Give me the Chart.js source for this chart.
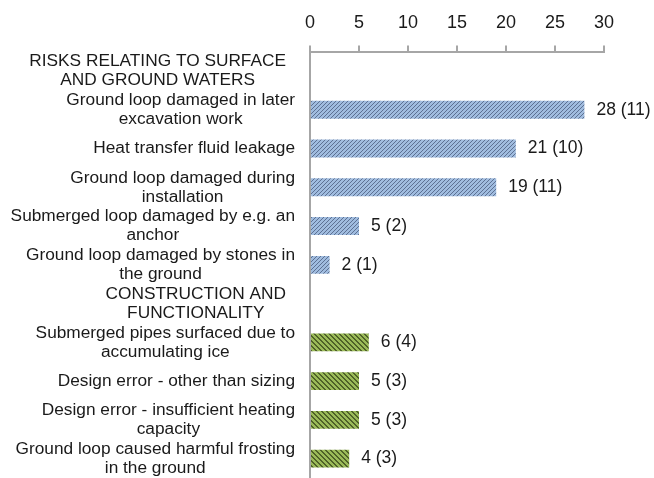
<!DOCTYPE html>
<html>
<head>
<meta charset="utf-8">
<script src="https://cdn.jsdelivr.net/npm/chart.js@4"></script>
<style>
  html, body { margin: 0; padding: 0; background: #fff; }
  #wrap { width: 654px; height: 478px; }
</style>
</head>
<body>
<div id="wrap"><canvas id="chart" width="654" height="478"></canvas></div>
<script>
// ---------- Dados ----------
const categories = [
  ['RISKS RELATING TO SURFACE', 'AND GROUND WATERS'],
  ['Ground loop damaged in later', 'excavation work'],
  ['Heat transfer fluid leakage'],
  ['Ground loop damaged during', 'installation'],
  ['Submerged loop damaged by e.g. an', 'anchor'],
  ['Ground loop damaged by stones in', 'the ground'],
  ['CONSTRUCTION AND', 'FUNCTIONALITY'],
  ['Submerged pipes surfaced due to', 'accumulating ice'],
  ['Design error - other than sizing'],
  ['Design error - insufficient heating', 'capacity'],
  ['Ground loop caused harmful frosting', 'in the ground']
];
const values = [null, 28, 21, 19, 5, 2, null, 6, 5, 5, 4];
const cases  = [null, 11, 10, 11, 2, 1, null, 4, 3, 3, 3];
const groups = ['head', 'water', 'water', 'water', 'water', 'water', 'head', 'build', 'build', 'build', 'build'];
const xMin = 0, xMax = 30, xStep = 5;

const FONT = '"Liberation Sans", Arial, sans-serif';
const TEXT = '#1a1a1a';
const AXIS = '#a6a6a6';

// ---------- Hachuras ----------
function hatch(bg, fg, period, dark, dir) {
  const c = document.createElement('canvas');
  c.width = period; c.height = period;
  const g = c.getContext('2d');
  g.fillStyle = bg;
  g.fillRect(0, 0, period, period);
  g.fillStyle = fg;
  for (let x = 0; x < period; x++) {
    for (let y = 0; y < period; y++) {
      const k = dir === '/' ? (x + y) % period : ((x - y) % period + period) % period;
      if (k < dark) g.fillRect(x, y, 1, 1);
    }
  }
  return document.getElementById('chart').getContext('2d').createPattern(c, 'repeat');
}
const patWater = hatch('#a0bcdf', '#5d7193', 4, 1, '/');
const patBuild = hatch('#9bbb59', '#4f6228', 5, 2, '\\');
const barColors = groups.map(g => g === 'water' ? patWater : g === 'build' ? patBuild : 'rgba(0,0,0,0)');

// ---------- Rótulos das categorias ----------
const categoryLabels = {
  id: 'categoryLabels',
  afterDraw(chart) {
    const ctx = chart.ctx, ys = chart.scales.y;
    ctx.save();
    ctx.font = '17.3px ' + FONT;
    ctx.fillStyle = TEXT;
    ctx.textAlign = 'center';
    ctx.textBaseline = 'middle';
    categories.forEach((lines, i) => {
      const y = ys.getPixelForValue(i);
      const w = Math.max(...lines.map(l => ctx.measureText(l).width));
      const right = groups[i] === 'head' ? 286 : 295;
      const cx = right - w / 2;
      lines.forEach((l, j) => {
        ctx.fillText(l, cx, y + (j - (lines.length - 1) / 2) * 19);
      });
    });
    ctx.restore();
  }
};

// ---------- Rótulos dos valores ----------
const valueLabels = {
  id: 'valueLabels',
  afterDatasetsDraw(chart) {
    const ctx = chart.ctx;
    const meta = chart.getDatasetMeta(0);
    ctx.save();
    ctx.font = '17.5px ' + FONT;
    ctx.fillStyle = TEXT;
    ctx.textAlign = 'left';
    ctx.textBaseline = 'middle';
    meta.data.forEach((bar, i) => {
      if (values[i] == null) return;
      ctx.fillText(`${values[i]} (${cases[i]})`, bar.x + 12, bar.y);
    });
    ctx.restore();
  }
};

new Chart(document.getElementById('chart'), {
  type: 'bar',
  data: {
    labels: categories.map((c, i) => i),
    datasets: [{
      data: values,
      backgroundColor: barColors,
      borderWidth: 0,
      barPercentage: 0.46,
      categoryPercentage: 1
    }]
  },
  options: {
    indexAxis: 'y',
    responsive: false,
    animation: false,
    layout: { padding: { left: 302, right: 50, top: 0, bottom: 0 } },
    plugins: { legend: { display: false }, tooltip: { enabled: false } },
    scales: {
      x: {
        position: 'top',
        min: xMin, max: xMax,
        ticks: { stepSize: xStep, color: TEXT, font: { family: FONT, size: 18 }, padding: 12 },
        grid: { drawOnChartArea: false, drawTicks: true, tickLength: 6, color: AXIS, lineWidth: 2 },
        border: { color: AXIS, width: 2 }
      },
      y: {
        ticks: { display: false },
        grid: { display: false },
        border: { color: AXIS, width: 2 }
      }
    }
  },
  plugins: [categoryLabels, valueLabels]
});
</script>
</body>
</html>
